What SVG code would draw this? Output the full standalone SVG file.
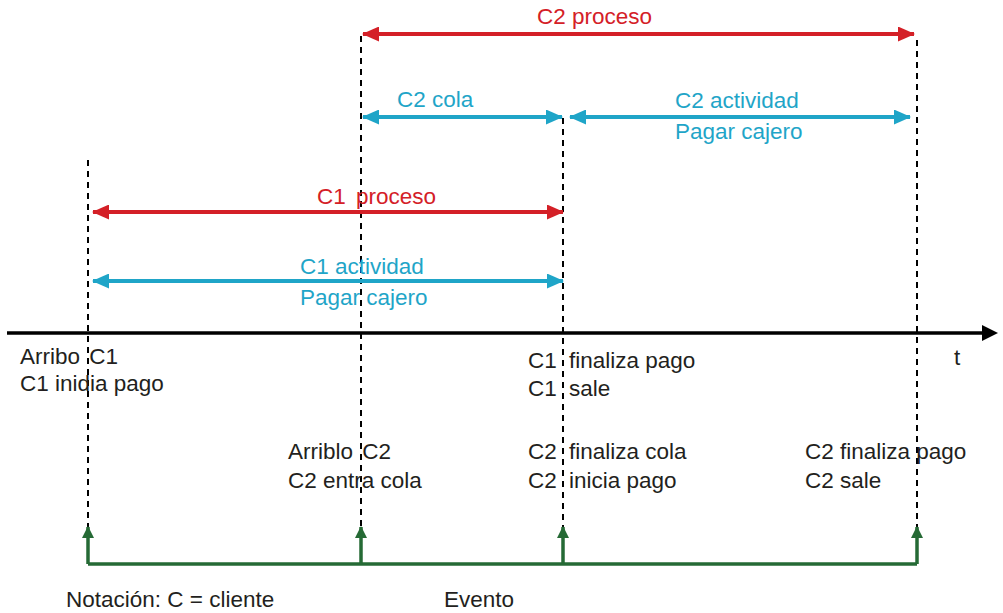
<svg xmlns="http://www.w3.org/2000/svg" width="1003" height="613" viewBox="0 0 1003 613">
<style>
text{font-family:"Liberation Sans",Arial,sans-serif;font-size:22.5px}
.k{fill:#231f20}
.r{fill:#d42027}
.b{fill:#1fa5c8}
.dash{stroke:#000;stroke-width:2;stroke-dasharray:6,5;fill:none}
.red{stroke:#d42027;stroke-width:4;fill:none}
.blue{stroke:#1fa5c8;stroke-width:4;fill:none}
.green{stroke:#256a35;stroke-width:3.5;fill:none}
</style>
<defs>
<marker id="mr" markerUnits="userSpaceOnUse" markerWidth="17" markerHeight="15" refX="16" refY="7.5" orient="auto-start-reverse"><path d="M0,0L17,7.5L0,15Z" fill="#d42027"/></marker>
<marker id="mb" markerUnits="userSpaceOnUse" markerWidth="17" markerHeight="15" refX="16" refY="7.5" orient="auto-start-reverse"><path d="M0,0L17,7.5L0,15Z" fill="#1fa5c8"/></marker>
<marker id="mg" markerUnits="userSpaceOnUse" markerWidth="12" markerHeight="12" refX="11" refY="6" orient="auto"><path d="M0,0L12,6L0,12Z" fill="#256a35"/></marker>
<marker id="mk" markerUnits="userSpaceOnUse" markerWidth="16" markerHeight="16" refX="1" refY="8" orient="auto"><path d="M0,0L16,8L0,16Z" fill="#000"/></marker>
</defs>
<g id="guides">
<line class="dash" x1="88" y1="160" x2="88" y2="530"/>
<line class="dash" x1="361" y1="36" x2="361" y2="530"/>
<line class="dash" x1="563" y1="118" x2="563" y2="530"/>
<line class="dash" x1="917" y1="40" x2="917" y2="530"/>
</g>
<g id="axis">
<line x1="7" y1="333" x2="983" y2="333" stroke="#000" stroke-width="3.5" marker-end="url(#mk)"/>
<text class="k" x="954" y="365">t</text>
</g>
<g id="connectors">
<line class="red" x1="363" y1="34" x2="914" y2="34" marker-start="url(#mr)" marker-end="url(#mr)"/>
<line class="blue" x1="363" y1="117" x2="562" y2="117" marker-start="url(#mb)" marker-end="url(#mb)"/>
<line class="blue" x1="570" y1="117" x2="910" y2="117" marker-start="url(#mb)" marker-end="url(#mb)"/>
<line class="red" x1="93" y1="212" x2="563" y2="212" marker-start="url(#mr)" marker-end="url(#mr)"/>
<line class="blue" x1="93" y1="281" x2="563" y2="281" marker-start="url(#mb)" marker-end="url(#mb)"/>
<polyline class="green" points="88,564 917,564"/>
<line class="green" x1="88" y1="564" x2="88" y2="527" marker-end="url(#mg)"/>
<line class="green" x1="361" y1="564" x2="361" y2="527" marker-end="url(#mg)"/>
<line class="green" x1="563" y1="564" x2="563" y2="527" marker-end="url(#mg)"/>
<line class="green" x1="917" y1="564" x2="917" y2="527" marker-end="url(#mg)"/>
</g>
<g id="c2-proceso"><text class="r" x="537" y="24">C2 proceso</text></g>
<g id="c2-cola"><text class="b" x="397" y="107">C2 cola</text></g>
<g id="c2-actividad"><text class="b" x="675" y="108">C2 actividad</text><text class="b" x="675" y="139">Pagar cajero</text></g>
<g id="c1-proceso"><text class="r" x="317" y="204">C1 <tspan dx="4">proceso</tspan></text></g>
<g id="c1-actividad"><text class="b" x="300" y="274">C1 actividad</text><text class="b" x="300" y="305">Pagar cajero</text></g>
<g id="ev1"><text class="k" x="20" y="364">Arribo <tspan dx="3">C1</tspan></text><text class="k" x="20" y="391">C1 inidia pago</text></g>
<g id="ev2"><text class="k" x="288" y="459">Arriblo <tspan dx="3">C2</tspan></text><text class="k" x="288" y="488">C2 entra cola</text></g>
<g id="ev3"><text class="k" x="528" y="368">C1 <tspan dx="6">finaliza pago</tspan></text><text class="k" x="528" y="396">C1 <tspan dx="6">sale</tspan></text>
<text class="k" x="528" y="459">C2 <tspan dx="6">finaliza cola</tspan></text><text class="k" x="528" y="488">C2 <tspan dx="6">inicia pago</tspan></text></g>
<g id="ev4"><text class="k" x="805" y="459">C2 finaliza pago</text><text class="k" x="805" y="488">C2 sale</text></g>
<g id="legend"><text class="k" x="66" y="607">Notación: C = cliente</text><text class="k" x="444" y="607">Evento</text></g>
</svg>
